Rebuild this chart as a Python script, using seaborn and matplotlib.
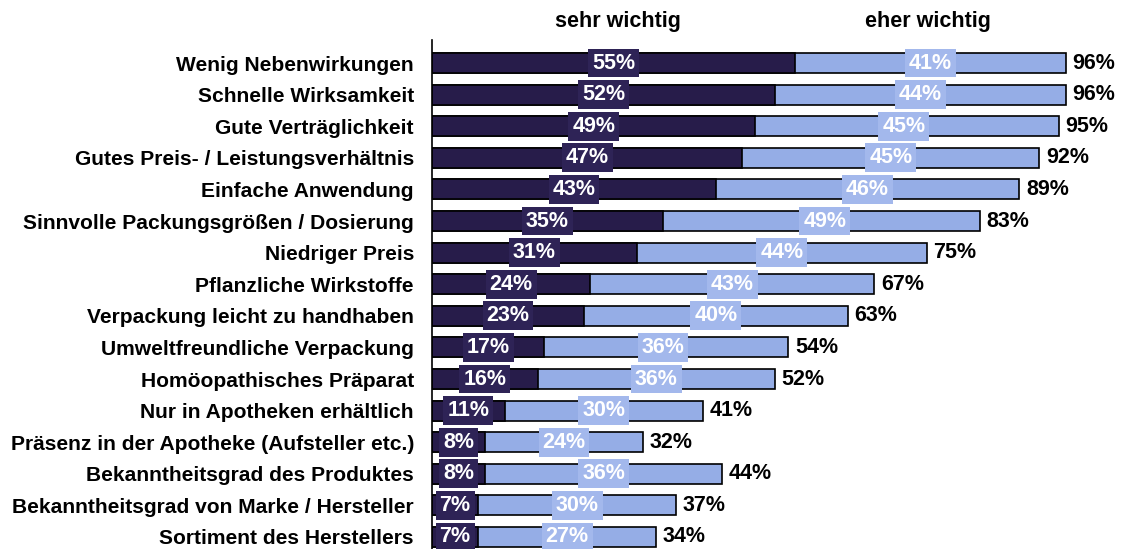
import matplotlib as mpl
mpl.use('Agg')
import matplotlib.pyplot as plt
import numpy as np
import pandas as pd
import seaborn as sns

categories = ['Wenig Nebenwirkungen', 'Schnelle Wirksamkeit', 'Gute Verträglichkeit',
              'Gutes Preis- / Leistungsverhältnis', 'Einfache Anwendung',
              'Sinnvolle Packungsgrößen / Dosierung', 'Niedriger Preis',
              'Pflanzliche Wirkstoffe', 'Verpackung leicht zu handhaben',
              'Umweltfreundliche Verpackung', 'Homöopathisches Präparat',
              'Nur in Apotheken erhältlich', 'Präsenz in der Apotheke (Aufsteller etc.)',
              'Bekanntheitsgrad des Produktes', 'Bekanntheitsgrad von Marke / Hersteller',
              'Sortiment des Herstellers']
sehr = [55, 52, 49, 47, 43, 35, 31, 24, 23, 17, 16, 11, 8, 8, 7, 7]
eher = [41, 44, 45, 45, 46, 49, 44, 43, 40, 36, 36, 30, 24, 36, 30, 27]
total = [96, 96, 95, 92, 89, 83, 75, 67, 63, 54, 52, 41, 32, 44, 37, 34]

dark = '#271c4a'
light = '#95ade6'
dark_box = '#2e2356'
light_box = '#a3b8ec'

df = pd.DataFrame({'cat': categories, 'sehr': sehr, 'eher': eher, 'total': total})

sns.set_style('white')
plt.rcParams['font.family'] = ['Liberation Sans', 'DejaVu Sans']
plt.rcParams['font.weight'] = 'bold'
plt.rcParams['text.color'] = 'black'
plt.rcParams['ytick.color'] = 'black'

fig = plt.figure(figsize=(11.23, 5.49), dpi=100)
ax = fig.add_axes([432 / 1123, 0, 691 / 1123, 509 / 549])

# light (total) bar underneath, dark bar on top
sns.barplot(data=df, y='cat', x='total', orient='h', color=light, width=0.63,
            edgecolor='black', linewidth=1.2, saturation=1, ax=ax)
sns.barplot(data=df, y='cat', x='sehr', orient='h', color=dark, width=0.63,
            edgecolor='black', linewidth=1.2, saturation=1, ax=ax)

ax.set_xlim(0, 691 / 6.6)
ax.set_ylim(len(categories) - 1 + 0.38, -0.73)
for s in ['top', 'right', 'bottom']:
    ax.spines[s].set_visible(False)
ax.spines['left'].set_color('black')
ax.spines['left'].set_linewidth(1.2)
ax.set_xticks([])
ax.set_xlabel('')
ax.set_ylabel('')
ax.tick_params(axis='y', length=0, pad=13)
for lbl in ax.get_yticklabels():
    lbl.set_fontsize(15.1)
    lbl.set_fontweight('bold')
    lbl.set_color('black')

for i in range(len(categories)):
    s, e, t = sehr[i], eher[i], total[i]
    ax.text(s / 2, i, f'{s}%', ha='center', va='center', color='white',
            fontsize=15.5, fontweight='bold',
            bbox=dict(boxstyle='square,pad=0.18', fc=dark_box, ec='none'))
    ax.text(s + e / 2, i, f'{e}%', ha='center', va='center', color='white',
            fontsize=15.5, fontweight='bold',
            bbox=dict(boxstyle='square,pad=0.18', fc=light_box, ec='none'))
    ax.text(t + 1.0, i, f'{t}%', ha='left', va='center', color='black',
            fontsize=15.5, fontweight='bold')

fig.text(618 / 1123, 1 - 22 / 549, 'sehr wichtig', ha='center', va='center',
         fontsize=15.5, fontweight='bold')
fig.text(928 / 1123, 1 - 22 / 549, 'eher wichtig', ha='center', va='center',
         fontsize=15.5, fontweight='bold')

fig.savefig('out.png', dpi=100)
